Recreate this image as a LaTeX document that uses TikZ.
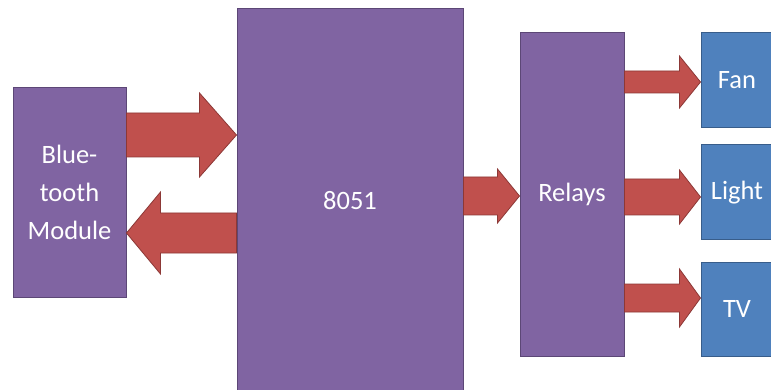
\documentclass[tikz,border=0pt]{standalone}
\usepackage{fontspec}
\setmainfont{Carlito}
\usetikzlibrary{calc}
\definecolor{boxpurple}{HTML}{8064A2}
\definecolor{edgepurple}{HTML}{5C4776}
\definecolor{boxblue}{HTML}{4F81BD}
\definecolor{edgeblue}{HTML}{385D8A}
\definecolor{arrred}{HTML}{C0504D}
\definecolor{edgered}{HTML}{8C3836}
\tikzset{
  pbox/.style={draw=edgepurple, fill=boxpurple, line width=1pt, inner sep=0pt,
    text=white, align=center, font=\fontsize{26.5}{38}\selectfont},
  bbox/.style={draw=edgeblue, fill=boxblue, line width=1pt, inner sep=0pt,
    text=white, align=center, font=\fontsize{26.5}{38}\selectfont},
  arr/.style={fill=arrred, draw=edgered, line width=0.8pt, line join=miter},
}
% #1 start anchor, #2 tip anchor, #3 centre y, #4 shaft half width, #5 head half width, #6 signed head length
\newcommand{\blockarrow}[6]{%
  \filldraw[arr] (#1 |- 0,{#3-#4}) -- ($(#2 |- 0,{#3-#4})+({-1*(#6)},0)$)
    -- ($(#2 |- 0,{#3-#5})+({-1*(#6)},0)$) -- (#2 |- 0,#3)
    -- ($(#2 |- 0,{#3+#5})+({-1*(#6)},0)$) -- ($(#2 |- 0,{#3+#4})+({-1*(#6)},0)$)
    -- (#1 |- 0,{#3+#4}) -- cycle;}
\begin{document}
\begin{tikzpicture}[x=1pt,y=-1pt]
\useasboundingbox (0,0) rectangle (771,390);
\fill[white] (0,0) rectangle (771,390);
\node[pbox, minimum width=113pt, minimum height=209pt] (bt) at (69.5,192.5) {Blue-\\tooth\\Module};
\node[pbox, minimum width=226pt, minimum height=384pt] (mcu) at (350,201) {8051};
\node[pbox, minimum width=104pt, minimum height=323pt] (rel) at (572,194.5) {Relays};
\node[bbox, minimum width=72pt, minimum height=95pt] (fan) at (737,80.5) {Fan};
\node[bbox, minimum width=72pt, minimum height=95pt] (light) at (737,192.5) {Light};
\node[bbox, minimum width=72pt, minimum height=94pt] (tv) at (737,309) {TV};
\blockarrow{bt.east}{mcu.west}{135}{22}{42}{37}
\blockarrow{mcu.west}{bt.east}{233}{20}{41}{-34}
\blockarrow{mcu.east}{rel.west}{196}{19}{27}{22}
\blockarrow{rel.east}{fan.west}{82}{11}{26}{21}
\blockarrow{rel.east}{light.west}{197}{18}{27}{21}
\blockarrow{rel.east}{tv.west}{298}{14}{29}{21}
\end{tikzpicture}
\end{document}
